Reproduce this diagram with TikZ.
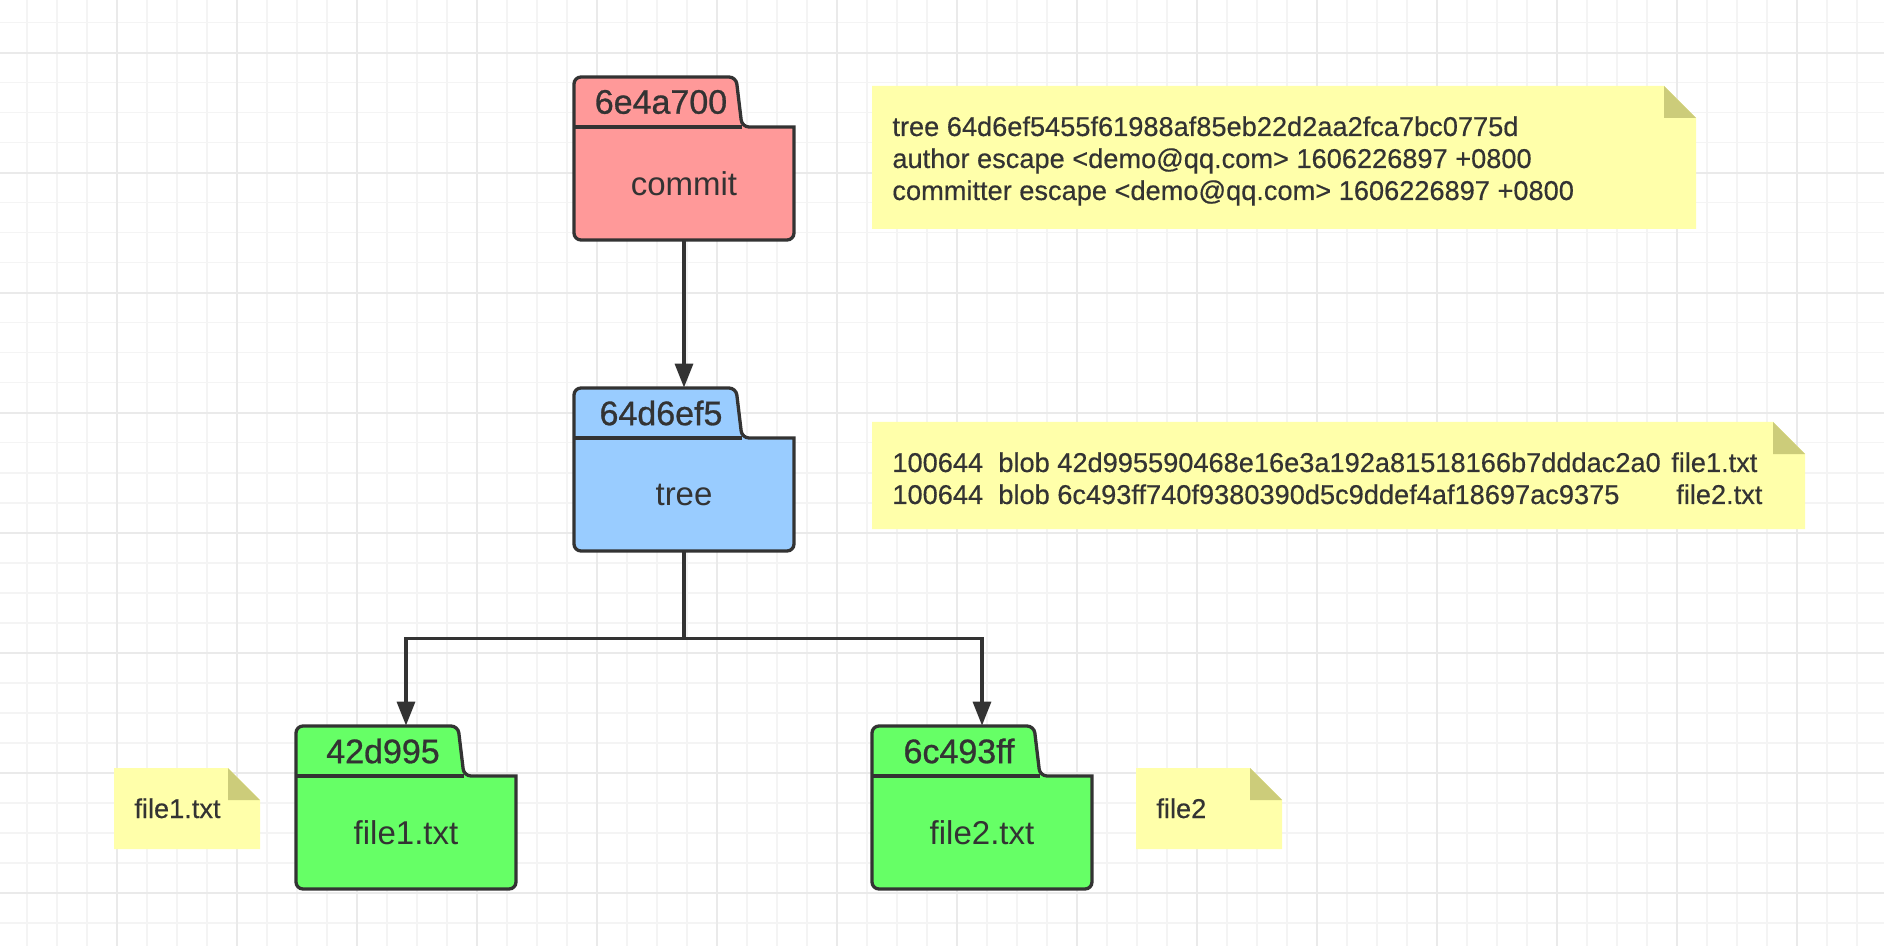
\documentclass[tikz,border=0pt]{standalone}
\usepackage{fontspec}
\setmainfont{Liberation Sans}
\usetikzlibrary{arrows.meta}
\definecolor{Inkgray}{RGB}{51,51,51}
\definecolor{Commitred}{RGB}{255,153,153}
\definecolor{Treeblue}{RGB}{153,204,255}
\definecolor{Blobgreen}{RGB}{102,255,102}
\definecolor{Notepale}{RGB}{255,255,170}
\definecolor{Notefold}{RGB}{204,204,122}
\definecolor{Gridfaint}{RGB}{244,244,244}
\definecolor{Gridmid}{RGB}{234,234,234}

% folder shaped git object: name, left, tab top, fill, hash, label
\newcommand{\gitobject}[6]{
    \filldraw[objline, fill=#4] (#2,#3+50) [rounded corners=3.5pt] -- (#2,#3) -- (#2+162,#3) -- (#2+168,#3+50) [sharp corners] -- (#2+220,#3+50) [rounded corners=3.5pt] -- (#2+220,#3+163) -- (#2,#3+163) -- cycle;
    \draw[objline] (#2,#3+50) -- (#2+168,#3+50);
    \node[hashtab] (#1-id) at (#2+87,#3+25) {#5};
    \node[objbody] (#1) at (#2+110,#3+106.5) {#6};
}
% sticky note: name, left, top, right, bottom, text
\newcommand{\stickynote}[6]{
    \fill[Notepale] (#2,#3) -- (#4-32,#3) -- (#4,#3+32) -- (#4,#5) -- (#2,#5) -- cycle;
    \fill[Notefold] (#4-32,#3) -- (#4-32,#3+32) -- (#4,#3+32) -- cycle;
    \node[notetext] (#1) at (#2+20,#3+50) {#6};
}

\begin{document}
\begin{tikzpicture}[x=0.5pt, y=-0.5pt,
        objline/.style={draw=Inkgray, line width=1.65pt},
        linkarrow/.style={objline, -{Triangle[width=9pt,length=12pt]}},
        hashtab/.style={minimum width=84pt, minimum height=25pt, inner sep=0pt, text=Inkgray, font=\fontsize{17}{20}\selectfont\addfontfeature{FakeBold=0.8}},
        objbody/.style={minimum width=110pt, minimum height=56.5pt, inner sep=0pt, text=Inkgray, font=\fontsize{16.5}{20}\selectfont},
        notetext/.style={anchor=base west, inner sep=0pt, text=Inkgray, font=\fontsize{13.6}{16}\selectfont\addfontfeature{FakeBold=0.4}}]
    \useasboundingbox (0,0) rectangle (1884,946);
    \fill[white] (0,0) rectangle (1884,946);

    % grid paper
    \foreach \gx in {0,...,61}
        \draw[Gridfaint, line width=0.8pt] ({26.7+30*\gx},0) -- ++(0,946);
    \foreach \gy in {0,...,30}
        \draw[Gridfaint, line width=0.8pt] (0,{22.7+30*\gy}) -- ++(1884,0);
    \foreach \gx in {0,...,14}
        \draw[Gridmid, line width=0.9pt] ({116.7+120*\gx},0) -- ++(0,946);
    \foreach \gy in {0,...,7}
        \draw[Gridmid, line width=0.9pt] (0,{52.7+120*\gy}) -- ++(1884,0);

    % objects
    \gitobject{commit}{574}{77}{Commitred}{6e4a700}{commit}
    \gitobject{tree}{574}{388}{Treeblue}{64d6ef5}{tree}
    \gitobject{blobone}{296}{726}{Blobgreen}{42d995}{file1.txt}
    \gitobject{blobtwo}{872}{726}{Blobgreen}{6c493ff}{file2.txt}

    % notes
    \stickynote{commitnote}{872}{86}{1696}{229}{\begin{tabular}[t]{@{}l@{}}
        tree 64d6ef5455f61988af85eb22d2aa2fca7bc0775d\\
        author escape <demo@qq.com> 1606226897 +0800\\
        committer escape <demo@qq.com> 1606226897 +0800
    \end{tabular}}
    \stickynote{treenote}{872}{422}{1805}{529}{\begin{tabular}[t]{@{}p{53pt}@{}p{336.5pt}@{}l@{}}
        100644 & blob 42d995590468e16e3a192a81518166b7dddac2a0 & file1.txt\\
        100644 & blob 6c493ff740f9380390d5c9ddef4af18697ac9375 & \hspace{2.5pt}file2.txt
    \end{tabular}}
    \stickynote{fileonenote}{114}{768}{260}{849}{file1.txt}
    \stickynote{filetwonote}{1136}{768}{1282}{849}{file2}

    % links
    \draw[linkarrow] (commit) -- (commit |- tree-id.north);
    \path (tree.south) ++(0,87) coordinate (fork);
    \draw[objline] (tree) -- (fork);
    \draw[linkarrow] (fork) -| (blobone |- blobone-id.north);
    \draw[linkarrow] (fork) -| (blobtwo |- blobtwo-id.north);
\end{tikzpicture}
\end{document}
